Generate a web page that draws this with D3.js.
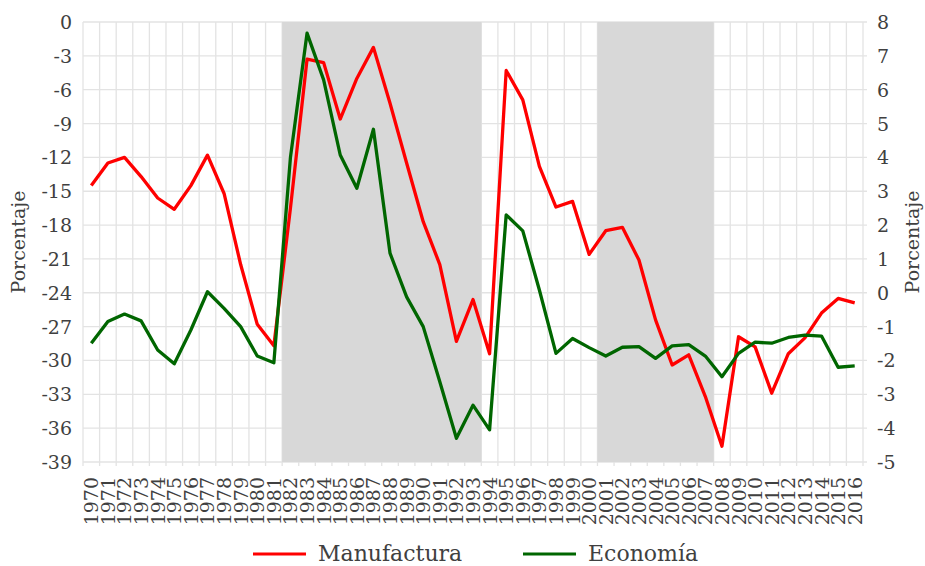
<!DOCTYPE html>
<html>
<head>
<meta charset="utf-8">
<script src="https://cdn.jsdelivr.net/npm/d3@7"></script>
<style>
  body { margin: 0; background: #fff; }
  svg text { font-family: "DejaVu Serif", serif; fill: #404040; }
</style>
</head>
<body>
<div id="chart"></div>
<script>
// Años
var years = d3.range(1970, 2017);

// Manufactura (eje izquierdo)
var manufactura = [-14.5, -12.5, -12.0, -13.7, -15.6, -16.6, -14.5, -11.8, -15.2, -21.5,
  -26.8, -28.7, -16.5, -3.3, -3.6, -8.6, -5.0, -2.25, -7.2, -12.5,
  -17.7, -21.5, -28.3, -24.6, -29.4, -4.3, -6.9, -12.8, -16.4, -15.9,
  -20.6, -18.5, -18.2, -21.1, -26.4, -30.4, -29.5, -33.2, -37.6, -27.9,
  -28.8, -32.9, -29.4, -28.0, -25.8, -24.5, -24.9];

// Economía (eje derecho)
var economia = [-1.49, -0.85, -0.63, -0.83, -1.69, -2.10, -1.1, 0.03, -0.46, -1.0,
  -1.87, -2.07, 4.0, 7.67, 6.29, 4.07, 3.09, 4.83, 1.17, -0.12,
  -1.0, -2.63, -4.3, -3.32, -4.05, 2.3, 1.83, 0.08, -1.79, -1.35,
  -1.62, -1.87, -1.61, -1.59, -1.94, -1.57, -1.53, -1.87, -2.48, -1.79,
  -1.46, -1.49, -1.32, -1.25, -1.28, -2.2, -2.16];

// Periodos sombreados
var periodos = [[1982, 1993], [2001, 2007]];

var leftTicks = d3.range(-39, 1, 3);
var rightTicks = d3.range(-5, 9, 1);

(function() {
    var width = 925, height = 566;
    var mLeft = 83, mRight = 863, mTop = 22, mBottom = 462;

    var svg = d3.select("#chart").append("svg")
        .attr("width", width)
        .attr("height", height);

    var x = d3.scaleBand().domain(years).range([mLeft, mRight]).padding(0);
    var yL = d3.scaleLinear().domain([-39, 0]).range([mBottom, mTop]);
    var yR = d3.scaleLinear().domain([-5, 8]).range([mBottom, mTop]);
    var cx = function(yr) { return x(yr) + x.bandwidth() / 2; };

    // Gridlines
    var grid = svg.append("g").attr("class", "grid");
    grid.selectAll("line.h").data(leftTicks).enter().append("line")
        .attr("x1", mLeft).attr("x2", mRight + 4)
        .attr("y1", function(d) { return yL(d); })
        .attr("y2", function(d) { return yL(d); })
        .style("stroke", "#e3e3e3").style("stroke-width", 1.3);
    var bounds = years.map(function(d) { return x(d); }).concat([mRight]);
    grid.selectAll("line.v").data(bounds).enter().append("line")
        .attr("x1", function(d) { return d; }).attr("x2", function(d) { return d; })
        .attr("y1", mTop).attr("y2", mBottom + 4)
        .style("stroke", "#e3e3e3").style("stroke-width", 1.3);

    // Sombreado
    svg.append("g").selectAll("rect").data(periodos).enter().append("rect")
        .attr("x", function(d) { return x(d[0]); })
        .attr("width", function(d) { return x(d[1]) + x.bandwidth() - x(d[0]); })
        .attr("y", mTop)
        .attr("height", mBottom - mTop)
        .style("fill", "#d8d8d8");

    // Ejes
    svg.append("g").selectAll("text").data(leftTicks).enter().append("text")
        .attr("x", 72).attr("y", function(d) { return yL(d) + 7; })
        .attr("text-anchor", "end")
        .style("font-size", "19px")
        .text(function(d) { return d; });

    svg.append("g").selectAll("text").data(rightTicks).enter().append("text")
        .attr("x", 877).attr("y", function(d) { return yR(d) + 7; })
        .style("font-size", "19px")
        .text(function(d) { return d; });

    svg.append("g").selectAll("text").data(years).enter().append("text")
        .attr("transform", function(d) { return "translate(" + (cx(d) + 7) + ",477) rotate(-90)"; })
        .attr("text-anchor", "end")
        .style("font-size", "19px")
        .text(function(d) { return d; });

    svg.append("text")
        .attr("transform", "translate(25," + ((mTop + mBottom) / 2) + ") rotate(-90)")
        .attr("text-anchor", "middle")
        .style("font-size", "19px")
        .text("Porcentaje");
    svg.append("text")
        .attr("transform", "translate(919," + ((mTop + mBottom) / 2) + ") rotate(-90)")
        .attr("text-anchor", "middle")
        .style("font-size", "19px")
        .text("Porcentaje");

    // Líneas
    var lineL = d3.line().x(function(d, i) { return cx(years[i]); }).y(function(d) { return yL(d); });
    var lineR = d3.line().x(function(d, i) { return cx(years[i]); }).y(function(d) { return yR(d); });

    svg.append("path").datum(manufactura)
        .attr("d", lineL)
        .style("fill", "none").style("stroke", "#ff0000")
        .style("stroke-width", 3.3).style("stroke-linejoin", "round");
    svg.append("path").datum(economia)
        .attr("d", lineR)
        .style("fill", "none").style("stroke", "#006600")
        .style("stroke-width", 3.3).style("stroke-linejoin", "round");

    // Leyenda
    var legend = [
        { name: "Manufactura", color: "#ff0000", x: 253 },
        { name: "Economía", color: "#006600", x: 523 }
    ];
    var lg = svg.append("g").selectAll("g").data(legend).enter().append("g")
        .attr("transform", function(d) { return "translate(" + d.x + ",554)"; });
    lg.append("line").attr("x1", 0).attr("x2", 53).attr("y1", 0).attr("y2", 0)
        .style("stroke", function(d) { return d.color; }).style("stroke-width", 3);
    lg.append("text").attr("x", 65).attr("y", 7)
        .style("font-size", "22px")
        .text(function(d) { return d.name; });
})();
</script>
</body>
</html>
